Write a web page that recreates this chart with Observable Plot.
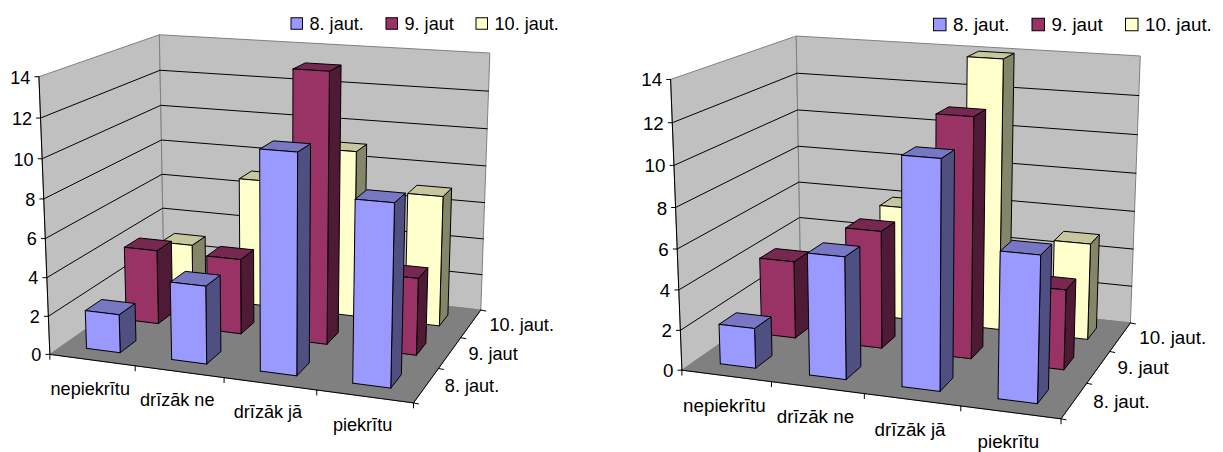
<!DOCTYPE html>
<html>
<head>
<meta charset="utf-8">
<script src="https://cdn.jsdelivr.net/npm/d3@7"></script>
<script src="https://cdn.jsdelivr.net/npm/@observablehq/plot@0.6"></script>
<style>html,body{margin:0;padding:0;background:#fff}svg{display:block}</style>
</head>
<body>
<div id="chart"></div>
<script>
const categories = ["nepiekrītu", "drīzāk ne", "drīzāk jā", "piekrītu"];
const seriesNames = ["8. jaut.", "9. jaut", "10. jaut."];
const tickValues = [0, 2, 4, 6, 8, 10, 12, 14];

const leftQ8 = [2, 4, 11, 9];
const leftQ9 = [4, 4, 14, 4];
const leftQ10 = [3, 7, 9, 7];
const rightQ8 = [2, 6, 11, 7];
const rightQ9 = [4, 6, 12, 4];
const rightQ10 = [1, 6, 14, 5];

const seriesColors = {
  "8. jaut.": {front: "#9999ff", top: "#7777c4", side: "#4f4f82"},
  "9. jaut": {front: "#993366", top: "#772850", side: "#4f1a35"},
  "10. jaut.": {front: "#ffffcc", top: "#c6c69f", side: "#85856a"}
};

// Camera calibration of each 3D view: [category axis 0-1, depth 0-1, height 0-1, screen x, screen y]
const leftCamera = [
  [0,0,0,49.5,353],[0,0,1,38,76],[1,0,0,413,403],[1,1,0,481,309],[1,1,1,490,53],
  [0,1,1,159,34],[0,1,0,163,275],[0,0,4/7,43.5,199],[0,1,4/7,161.3,139.5],[1,1,4/7,484,165]
];
const rightCamera = [
  [0,0,0,681.7,368.7],[0,0,1,669.7,79.3],[1,0,0,1060.7,419],[1,1,0,1130,321.7],[1,1,1,1140,55.7],
  [0,1,1,796,35.5],[0,1,0,800,288],[0,0,4/7,675,207],[0,1,4/7,798,145],[1,1,4/7,1135,172.7]
];

function solveCamera(pts) {
  const A = [], b = [];
  for (const [u, v, w, x, y] of pts) {
    A.push([u, v, w, 1, 0, 0, 0, 0, -x*u, -x*v, -x*w]); b.push(x);
    A.push([0, 0, 0, 0, u, v, w, 1, -y*u, -y*v, -y*w]); b.push(y);
  }
  const n = 11;
  const M = d3.range(n).map(i => d3.range(n + 1).map(j =>
    j < n ? d3.sum(A, r => r[i]*r[j]) : d3.sum(A, (r, k) => r[i]*b[k])));
  for (let c = 0; c < n; c++) {
    let p = c;
    for (let r = c + 1; r < n; r++) if (Math.abs(M[r][c]) > Math.abs(M[p][c])) p = r;
    [M[c], M[p]] = [M[p], M[c]];
    for (let r = 0; r < n; r++) {
      if (r === c) continue;
      const f = M[r][c] / M[c][c];
      for (let j = c; j <= n; j++) M[r][j] -= f*M[c][j];
    }
  }
  const h = M.map((r, i) => r[n] / r[i]);
  return (u, v, w) => {
    const d = h[8]*u + h[9]*v + h[10]*w + 1;
    return [(h[0]*u + h[1]*v + h[2]*w + h[3])/d, (h[4]*u + h[5]*v + h[6]*w + h[7])/d];
  };
}

const catScale = Plot.scale({x: {type: "band", domain: categories, range: [-0.004, 0.996], paddingInner: 0.6, paddingOuter: 0.3, round: false}});
const depthScale = Plot.scale({x: {type: "band", domain: seriesNames, range: [0, 1], paddingInner: 0.6, paddingOuter: 0.3, round: false}});
const valueScale = Plot.scale({y: {type: "linear", domain: [0, 14], range: [0, 1]}});

function chartMarks(cfg) {
  const P = solveCamera(cfg.camera);
  let nid = 0;
  const poly = (rows, pts, fill) => {
    const id = cfg.key + nid++;
    for (const p of pts) { const [x, y] = P(...p); rows.push({id, x, y, fill}); }
  };
  const walls = [], floor = [], grid = [], axes = [], bars = [];
  poly(walls, [[0,0,0],[0,1,0],[0,1,1],[0,0,1],[0,0,0]], "#c0c0c0");
  poly(walls, [[0,1,0],[1,1,0],[1,1,1],[0,1,1],[0,1,0]], "#c0c0c0");
  poly(floor, [[0,0,0],[1,0,0],[1,1,0],[0,1,0],[0,0,0]], "#808080");
  for (const t of tickValues.slice(1, -1)) {
    const w = valueScale.apply(t);
    poly(grid, [[0,0,w],[0,1,w],[1,1,w]], "none");
  }
  poly(axes, [[0,0,1],[0,0,0],[1,0,0],[1,1,0]], "none");
  const ticks = [];
  const seg = (a, dx, dy) => {
    const [x, y] = P(...a), id = cfg.key + nid++;
    ticks.push({id, x, y}, {id, x: x + dx, y: y + dy});
  };
  for (const t of tickValues) seg([0, 0, valueScale.apply(t)], -4, 0);
  for (let i = 0; i <= categories.length; i++) seg([i/categories.length, 0, 0], 0, 5);
  for (let i = 0; i <= seriesNames.length; i++) seg([1, i/seriesNames.length, 0], 5, 1);

  const bw = catScale.bandwidth, bd = depthScale.bandwidth;
  for (const [s, name] of [...seriesNames.entries()].reverse()) {
    for (const [c, cat] of [...categories.entries()].reverse()) {
      const u0 = catScale.apply(cat), u1 = u0 + bw;
      const v0 = depthScale.apply(name), v1 = v0 + bd;
      const w = valueScale.apply(cfg.values[s][c]);
      const col = seriesColors[name];
      poly(bars, [[u1,v0,0],[u1,v1,0],[u1,v1,w],[u1,v0,w],[u1,v0,0]], col.side);
      poly(bars, [[u0,v0,w],[u1,v0,w],[u1,v1,w],[u0,v1,w],[u0,v0,w]], col.top);
      poly(bars, [[u0,v0,0],[u1,v0,0],[u1,v0,w],[u0,v0,w],[u0,v0,0]], col.front);
    }
  }

  const font = {fontFamily: "'Liberation Sans', Arial, sans-serif", fontSize: cfg.fontSize, fill: "#000", lineAnchor: "middle"};
  const valueLabels = tickValues.map(t => {
    const [x, y] = P(0, 0, valueScale.apply(t));
    return {x: x - 8.5, y: y + 1, t: String(t)};
  });
  const catLabels = categories.map((t) => {
    const [x, y] = P(catScale.apply(t) + bw/2, 0, 0);
    return {x: x + cfg.catOffset[0], y: y + cfg.catOffset[1], t};
  });
  const depthLabels = seriesNames.map((t) => {
    const [x, y] = P(1, depthScale.apply(t) + bd/2, 0);
    return {x: x + cfg.depthOffset[0], y: y + cfg.depthOffset[1], t};
  });
  const legend = seriesNames.map((t, i) => ({t, x: cfg.legendX[i], y: cfg.legendY, fill: seriesColors[t].front}));
  const poly1 = (rows, o) => Plot.line(rows, {x: "x", y: "y", z: "id", fill: "fill", strokeWidth: 1, strokeLinejoin: "miter", strokeMiterlimit: 4, curve: "linear", ...o});
  return [
    poly1(walls, {stroke: "#808080"}),
    poly1(grid, {stroke: "#000"}),
    poly1(floor, {stroke: "#808080"}),
    poly1(axes, {stroke: "#000"}),
    Plot.line(ticks, {x: "x", y: "y", z: "id", stroke: "#000", strokeWidth: 1, curve: "linear"}),
    poly1(bars, {stroke: "#000"}),
    Plot.text(valueLabels, {x: "x", y: "y", text: "t", textAnchor: "end", ...font}),
    Plot.text(catLabels, {x: "x", y: "y", text: "t", textAnchor: "middle", ...font}),
    Plot.text(depthLabels, {x: "x", y: "y", text: "t", textAnchor: "start", ...font}),
    Plot.rect(legend, {x1: "x", x2: d => d.x + cfg.swatch, y1: d => d.y - cfg.swatch/2, y2: d => d.y + cfg.swatch/2, fill: "fill", stroke: "#000", strokeWidth: 1}),
    Plot.text(legend, {x: d => d.x + cfg.swatch + 6.5, y: "y", text: "t", textAnchor: "start", ...font})
  ];
}

const marks = [
  ...chartMarks({key: "L", camera: leftCamera, values: [leftQ8, leftQ9, leftQ10], fontSize: 18.1,
    catOffset: [-0.5, 29], depthOffset: [18.5, 1.5], legendX: [291, 386, 476], legendY: 23.5, swatch: 11.5}),
  ...chartMarks({key: "R", camera: rightCamera, values: [rightQ8, rightQ9, rightQ10], fontSize: 18.8,
    catOffset: [-0.5, 30], depthOffset: [19, 1], legendX: [933.5, 1032, 1125.5], legendY: 24.5, swatch: 12.5})
];

const chart = Plot.plot({
  width: 1223, height: 452, margin: 0,
  x: {domain: [0, 1223], range: [0, 1223], axis: null},
  y: {domain: [0, 452], range: [0, 452], axis: null},
  color: {type: "identity"},
  marks
});
document.getElementById("chart").appendChild(chart);
</script>
</body>
</html>
